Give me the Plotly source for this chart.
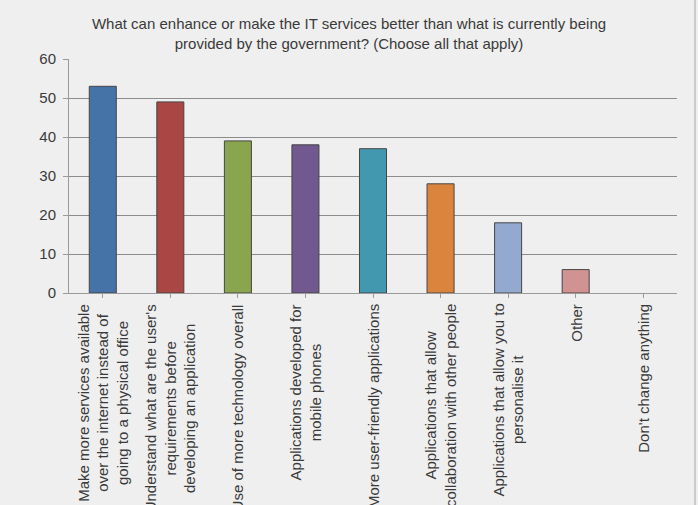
import plotly.graph_objects as go

categories = [
    "Make more services available<br>over the internet instead of<br>going to a physical office",
    "Understand what are the user's<br>requirements before<br>developing an application",
    "Use of more technology overall",
    "Applications developed for<br>mobile phones",
    "More user-friendly applications",
    "Applications that allow<br>collaboration with other people",
    "Applications that allow you to<br>personalise it",
    "Other",
    "Don't change anything",
]
values = [53, 49, 39, 38, 37, 28, 18, 6, 0]
colors = ["#4572a7", "#aa4643", "#89a54e", "#71588f", "#4198af",
          "#db843d", "#93a9cf", "#d19392", "#aaaaaa"]
y_ticks = [0, 10, 20, 30, 40, 50, 60]
title_text = ("What can enhance or make the IT services better than what is currently being<br>"
              "provided by the government? (Choose all that apply)")

FONT = "Liberation Sans, Arial, sans-serif"
TXT = "#3a3a3a"

fig = go.Figure(go.Bar(
    x=list(range(len(categories))),
    y=values,
    marker=dict(color=colors,
                line=dict(color="#454545",
                          width=[1 if v > 0 else 0 for v in values])),
    hoverinfo="y",
))

for i, lab in enumerate(categories):
    fig.add_annotation(
        x=i, y=0, xref="x", yref="paper",
        text=lab, textangle=-90, showarrow=False,
        xanchor="center", yanchor="top", yshift=-9,
        align="center",
        font=dict(family=FONT, size=15, color=TXT),
    )

fig.update_layout(
    width=698, height=505,
    margin=dict(l=69, r=21, t=59, b=212),
    paper_bgcolor="#efefef", plot_bgcolor="#efefef",
    bargap=0.6,
    showlegend=False,
    title=dict(text=title_text, x=0.5, xref="container", xanchor="center",
               y=1 - 29 / 505, yref="container", yanchor="middle",
               font=dict(family=FONT, size=15, color=TXT)),
    xaxis=dict(
        range=[-0.5, len(categories) - 0.5],
        tickmode="array", tickvals=list(range(len(categories))),
        showticklabels=False,
        ticks="outside", tickson="boundaries", ticklen=4,
        tickcolor="#9a9a9a",
        showline=True, linecolor="#9a9a9a", linewidth=1,
        showgrid=False, zeroline=False,
    ),
    yaxis=dict(
        range=[0, 60],
        tickvals=y_ticks,
        ticks="outside", ticklen=5, tickcolor="#9a9a9a",
        ticklabelstandoff=4,
        showline=True, linecolor="#9a9a9a", linewidth=1,
        showgrid=True, gridcolor="#8c8c8c", gridwidth=1,
        zeroline=False,
        tickfont=dict(family=FONT, size=15, color=TXT),
    ),
    shapes=[dict(type="line", xref="paper", yref="paper",
                 x0=(695 - 69) / (677 - 69), x1=(695 - 69) / (677 - 69),
                 y0=-1.0, y1=1.3,
                 line=dict(color="#a8a8a8", width=1))],
)

fig.write_html("out.html")
